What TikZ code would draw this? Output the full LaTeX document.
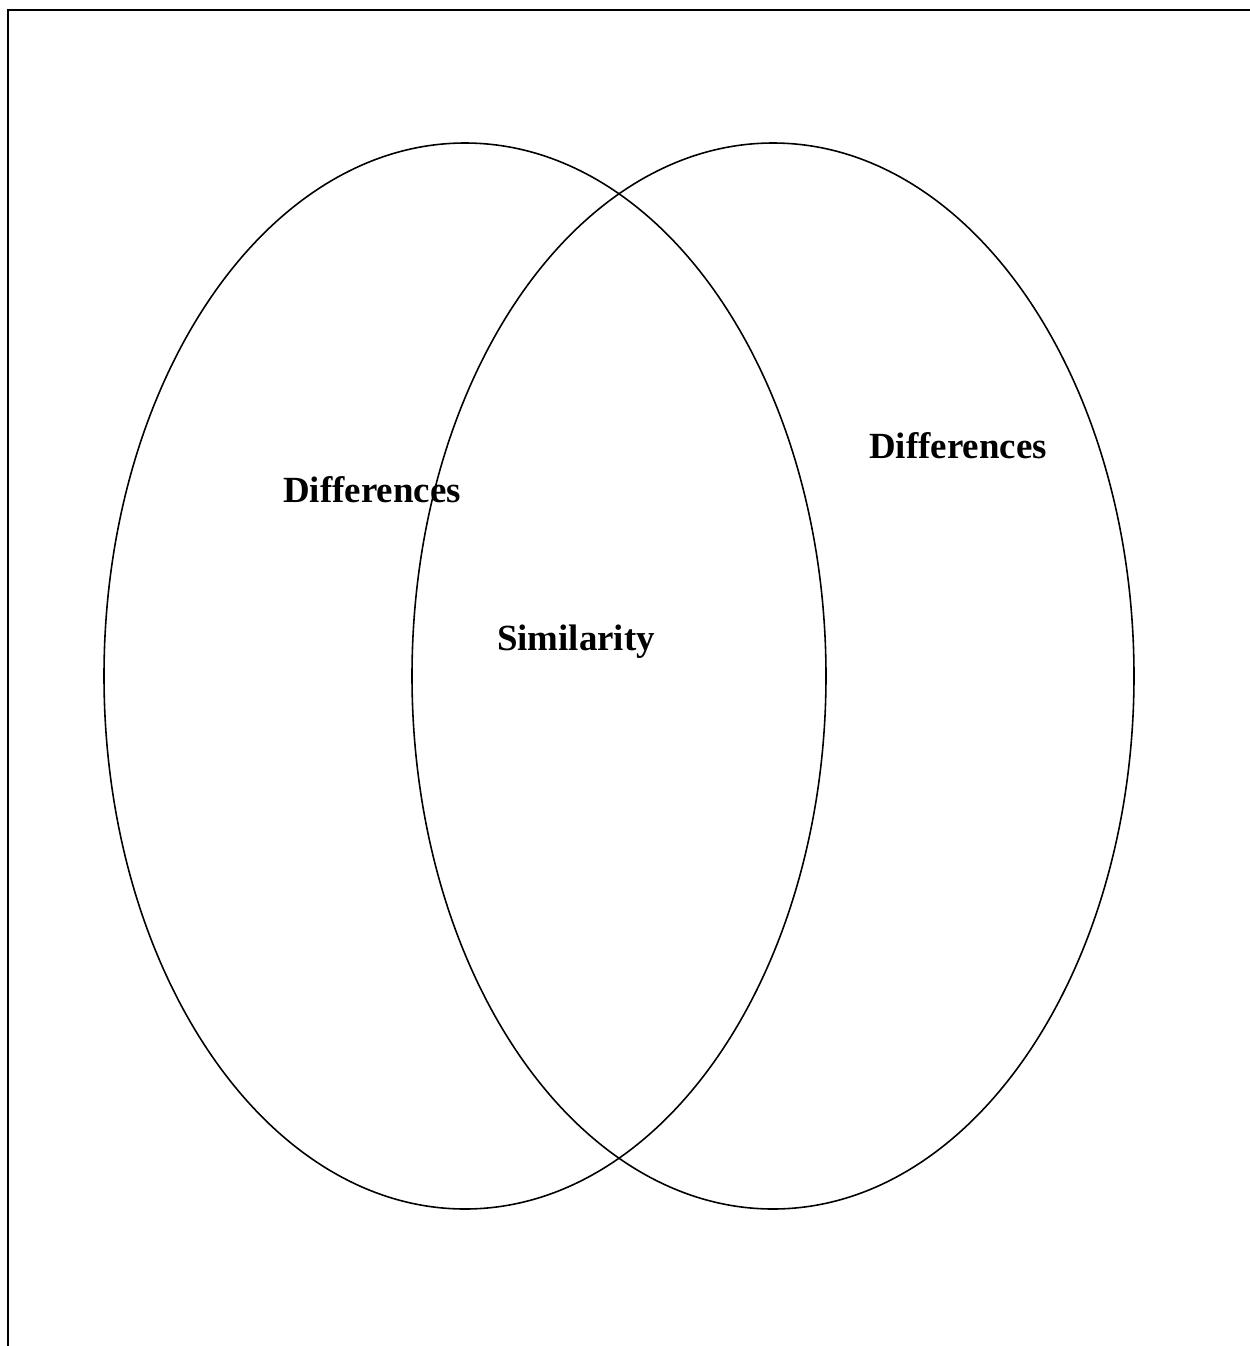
\documentclass[tikz,border=0pt]{standalone}
\usepackage{fontspec}
\setmainfont{Liberation Serif}
\usetikzlibrary{positioning}

\tikzset{
    set/.style={draw, line width=0.9pt},
    lbl/.style={font=\fontsize{21}{25}\selectfont\bfseries, inner sep=0pt},
}

\begin{document}
\begin{tikzpicture}[x=0.02cm, y=-0.02cm]
    \useasboundingbox (0,0) rectangle (1250,1346);
    % page frame (top and left edges only)
    \draw[line width=1.3pt] (8,1346) -- (8,10) -- (1250,10);

    % the two sets
    \draw[set] (465,676) ellipse [x radius=361, y radius=533];
    \draw[set] (773,676) ellipse [x radius=361, y radius=533];

    \node (diffA) [lbl] at (372,490) {Differences};
    \node (diffB) [lbl] at (958,446) {Differences};
    \node (sim) [lbl] at (576,642) {Similarity};
\end{tikzpicture}
\end{document}
